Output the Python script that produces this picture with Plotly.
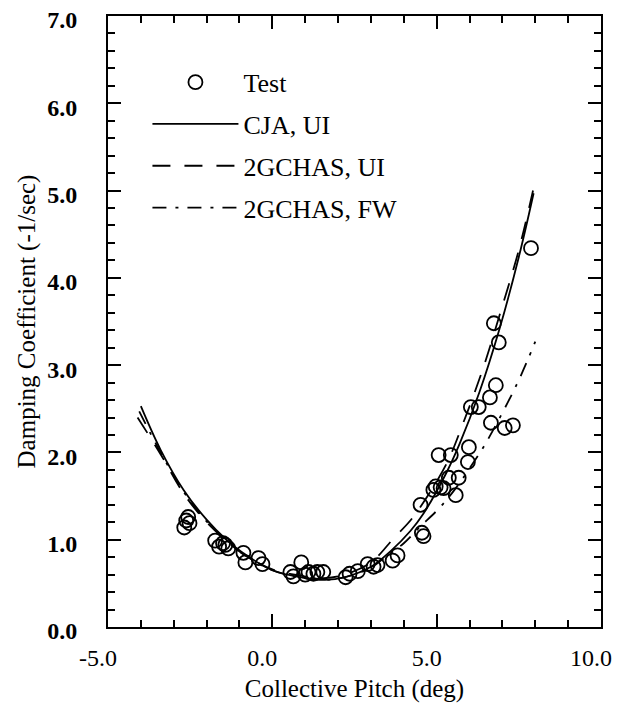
import plotly.graph_objects as go

# Test data (circles)
test_x = [-2.68, -2.62, -2.56, -2.52, -1.74, -1.62, -1.5, -1.43, -1.34, -0.88, -0.82, -0.42, -0.3,
          0.55, 0.64, 0.88, 1.0, 1.1, 1.25, 1.37, 1.55, 2.23, 2.35, 2.6, 2.9, 3.08, 3.2, 3.66, 3.81,
          4.51, 4.55, 4.6, 4.9, 4.97, 5.12, 5.21, 5.06, 5.43, 5.37, 5.67, 5.58, 5.98, 5.95, 6.04,
          6.28, 6.62, 6.8, 6.65, 7.07, 7.32, 6.74, 6.89, 7.87]
test_y = [1.14, 1.22, 1.26, 1.19, 0.99, 0.92, 0.96, 0.94, 0.9, 0.85, 0.74, 0.79, 0.72,
          0.63, 0.58, 0.74, 0.6, 0.63, 0.61, 0.63, 0.63, 0.57, 0.61, 0.64, 0.72, 0.69, 0.71, 0.76, 0.82,
          1.4, 1.08, 1.04, 1.57, 1.61, 1.6, 1.59, 1.97, 1.97, 1.71, 1.71, 1.51, 2.06, 1.89, 2.52,
          2.52, 2.63, 2.77, 2.34, 2.28, 2.31, 3.48, 3.26, 4.34]

# CJA, UI (solid)
cja_x = [-4.0, -3.4, -2.7, -2.0, -1.4, -0.9, 0.0, 1.0, 1.6, 2.2, 3.0, 3.6, 4.2, 4.6, 5.3, 5.7, 6.3, 6.9, 7.5, 7.95]
cja_y = [2.53, 2.03, 1.57, 1.23, 1.0, 0.85, 0.65, 0.56, 0.54, 0.57, 0.69, 0.87, 1.1, 1.3, 1.77, 2.1, 2.69, 3.4, 4.24, 4.97]

# 2GCHAS, UI (dashed)
gu_x = [-4.1, -3.4, -2.7, -2.0, -1.4, -0.9, 0.0, 1.0, 1.6, 2.2, 3.0, 3.7, 4.2, 4.6, 5.3, 5.8, 6.4, 7.0, 7.5, 7.95]
gu_y = [2.4, 1.98, 1.53, 1.2, 0.99, 0.84, 0.66, 0.58, 0.56, 0.6, 0.74, 1.02, 1.22, 1.43, 1.87, 2.33, 2.95, 3.68, 4.32, 5.03]

# 2GCHAS, FW (dash-dot)
gf_x = [-4.05, -3.4, -2.7, -2.0, -1.4, -0.9, 0.0, 1.0, 1.6, 2.2, 3.0, 3.5, 4.0, 4.5, 5.1, 5.6, 6.2, 6.5, 7.16, 7.5, 7.77, 8.0]
gf_y = [2.47, 2.0, 1.55, 1.21, 0.99, 0.84, 0.65, 0.56, 0.54, 0.57, 0.68, 0.82, 0.96, 1.15, 1.37, 1.6, 1.93, 2.11, 2.57, 2.83, 3.06, 3.27]

x_ticks = [-5.0, 0.0, 5.0, 10.0]
x_labels = ["-5.0", "0.0", "5.0", "10.0"]
y_ticks = [0, 1, 2, 3, 4, 5, 6, 7]
y_labels = ["0.0", "1.0", "2.0", "3.0", "4.0", "5.0", "6.0", "7.0"]

FONT = "Liberation Serif"

fig = go.Figure()
fig.add_trace(go.Scatter(x=test_x, y=test_y, mode="markers", name="Test", legendgroup="a",
                         marker=dict(symbol="circle-open", size=14, color="black", line=dict(width=1.8))))
fig.add_trace(go.Scatter(x=cja_x, y=cja_y, mode="lines", name="CJA, UI", legendgroup="b",
                         line=dict(color="black", width=1.8, shape="spline")))
fig.add_trace(go.Scatter(x=gu_x, y=gu_y, mode="lines", name="2GCHAS, UI", legendgroup="c",
                         line=dict(color="black", width=1.8, dash="18px,14px", shape="spline")))
fig.add_trace(go.Scatter(x=gf_x, y=gf_y, mode="lines", name="2GCHAS, FW", legendgroup="d",
                         line=dict(color="black", width=1.8, dash="14px,9px,3px,9px", shape="spline")))

axis_common = dict(showline=True, linecolor="black", linewidth=2, mirror="ticks",
                   ticks="inside", tickcolor="black", tickwidth=1.8, ticklen=13,
                   showgrid=False, zeroline=False, automargin=False, ticklabeloverflow="allow")

fig.update_xaxes(range=[-5, 10], tickvals=x_ticks, ticktext=x_labels,
                 minor=dict(dtick=1, ticks="inside", ticklen=7, tickcolor="black", tickwidth=1.5),
                 tickfont=dict(family=FONT, size=24, color="black"),
                 ticklabelshift=-10, ticklabelstandoff=8,
                 title=dict(text="Collective Pitch (deg)", font=dict(family=FONT, size=25, color="black"), standoff=10),
                 **axis_common)
fig.update_yaxes(range=[0, 7], tickvals=y_ticks, ticktext=y_labels,
                 minor=dict(dtick=0.2, ticks="inside", ticklen=7, tickcolor="black", tickwidth=1.5),
                 tickfont=dict(family=FONT, size=24, color="black", weight="bold"),
                 ticklabelstandoff=24, ticklabelshift=4,
                 title=dict(text="Damping Coefficient (-1/sec)", font=dict(family=FONT, size=25, color="black"), standoff=4),
                 **axis_common)

fig.update_layout(
    width=633, height=709,
    margin=dict(l=100, r=40, t=8, b=90),
    plot_bgcolor="white", paper_bgcolor="white",
    showlegend=True,
    legend=dict(x=0.08, y=0.93, xanchor="left", yanchor="top", bgcolor="rgba(0,0,0,0)",
                font=dict(family=FONT, size=26, color="black"), itemwidth=86, tracegroupgap=5),
)

fig.write_html("out.html")
